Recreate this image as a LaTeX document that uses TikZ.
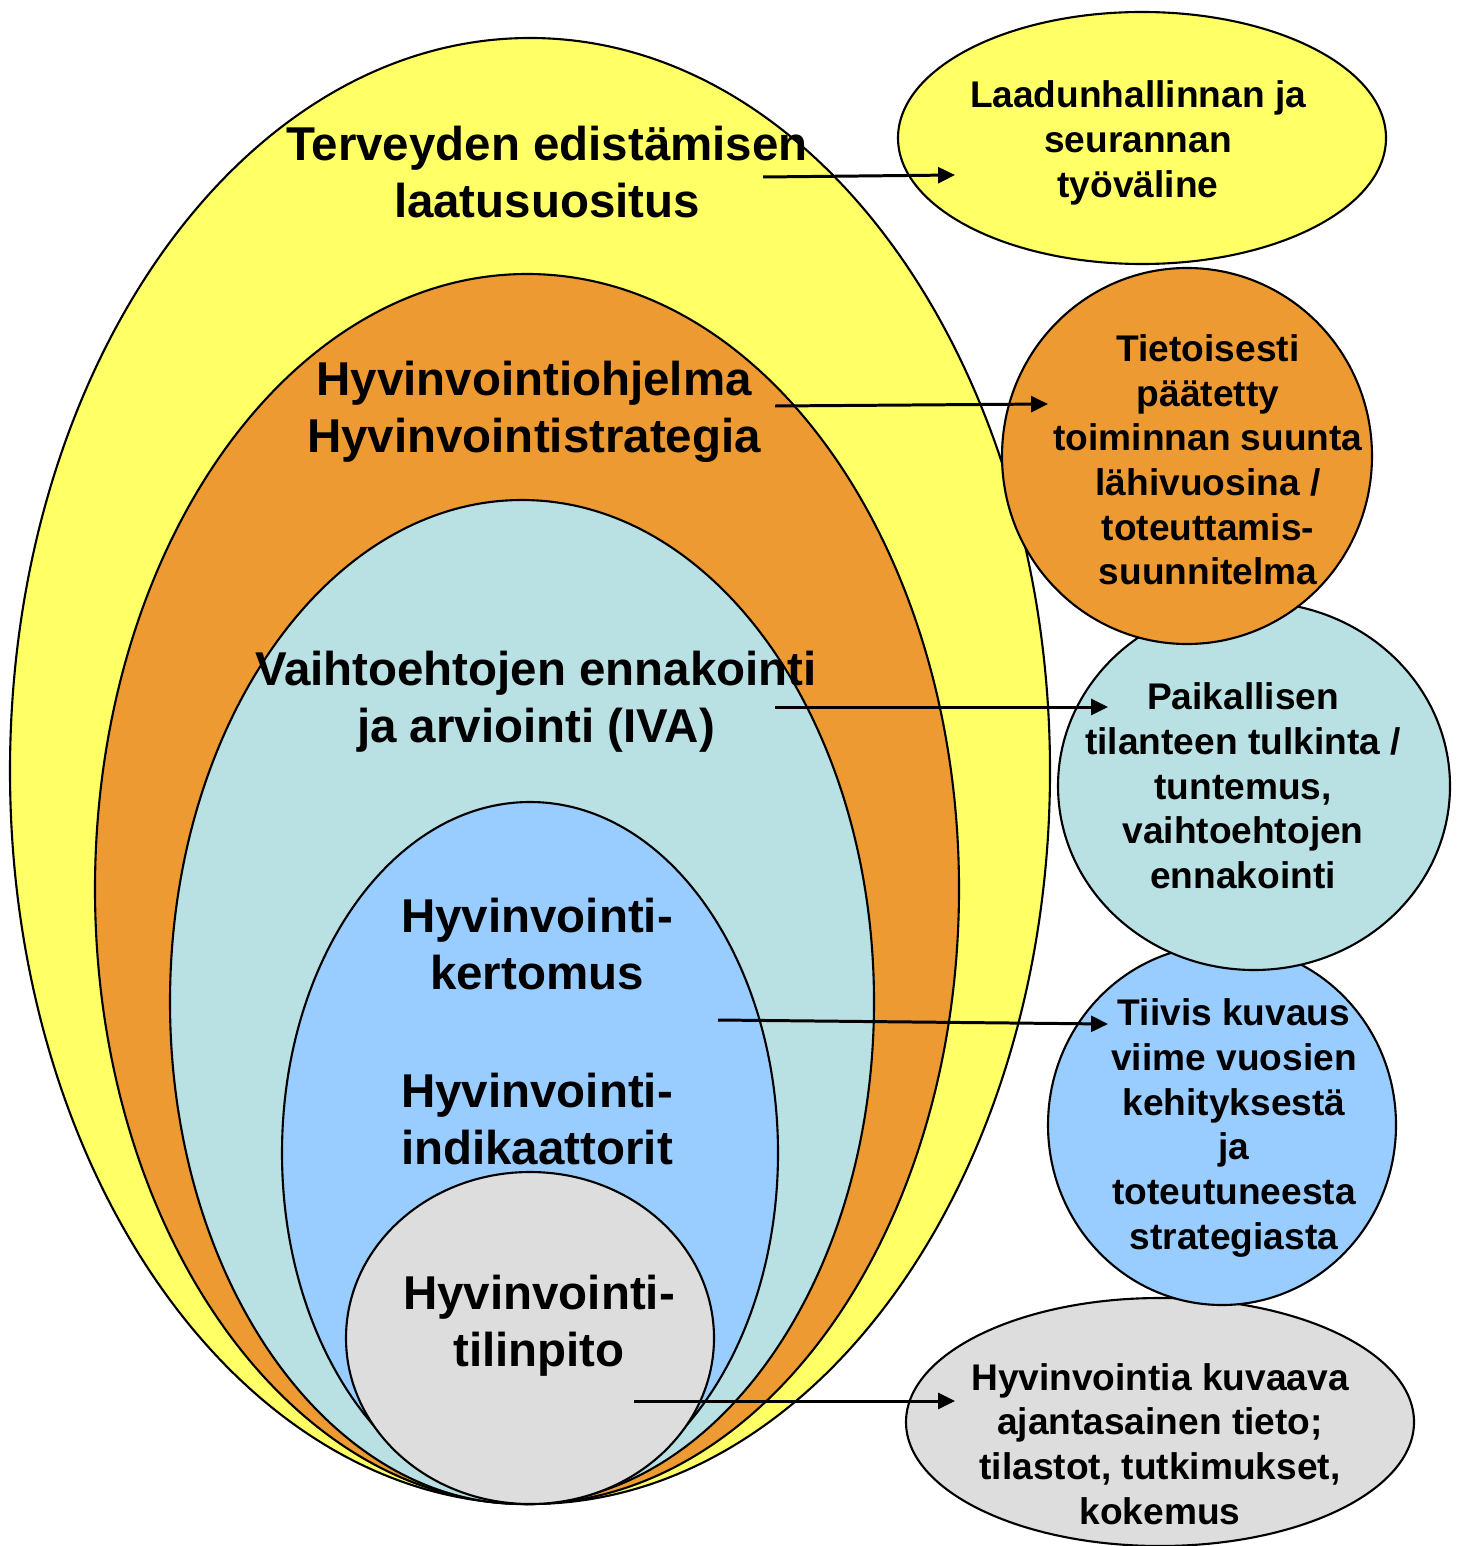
\documentclass[tikz,border=0pt]{standalone}
\usepackage{fontspec}
\setmainfont{Liberation Sans}
\usetikzlibrary{arrows.meta}
\definecolor{cyel}{HTML}{FFFF66}
\definecolor{corg}{HTML}{EE9A33}
\definecolor{cteal}{HTML}{B9E0E3}
\definecolor{cblue}{HTML}{99CCFF}
\definecolor{cgray}{HTML}{DDDDDD}
\tikzset{
  ring/.style={draw=black, line width=0.6pt},
  biglabel/.style={align=center, font=\bfseries\fontsize{13.5}{16.2}\selectfont, inner sep=0pt},
  smalllabel/.style={align=center, font=\bfseries\fontsize{10.55}{12.7}\selectfont, inner sep=0pt},
  link/.style={line width=0.85pt, -{Triangle[length=4.8pt,width=4.5pt]}}
}
\begin{document}
\begin{tikzpicture}[x=0.01cm,y=-0.01cm]
\useasboundingbox (0,0) rectangle (1461,1546);
% nested ellipses
\fill[white] (0,0) rectangle (1461,1546);
\draw[ring, fill=cyel] (530,771) ellipse [x radius=520, y radius=733];
\draw[ring, fill=corg] (527,889) ellipse [x radius=432, y radius=615];
\draw[ring, fill=cteal] (522,1002) ellipse [x radius=352, y radius=502];
\draw[ring, fill=cblue] (530,1153) ellipse [x radius=248, y radius=351];
\draw[ring, fill=cgray] (530,1338) ellipse [x radius=184, y radius=166];
% right ellipses
\draw[ring, fill=cgray] (1160,1422) ellipse [x radius=254, y radius=124];
\draw[ring, fill=cblue] (1222,1125) ellipse [x radius=174, y radius=180];
\draw[ring, fill=cteal] (1254,786) ellipse [x radius=196, y radius=184];
\draw[ring, fill=corg] (1187,456) ellipse [x radius=185, y radius=188];
\draw[ring, fill=cyel] (1142,138) ellipse [x radius=244, y radius=126];
% labels left
\node[biglabel] (l1) at (547,172) {Terveyden edistämisen\\laatusuositus};
\node[biglabel] (l2) at (534,412) {Hyvinvointiohjelma\\Hyvinvointistrategia};
\node[biglabel] (l3) at (536,702) {Vaihtoehtojen ennakointi\\ja arviointi (IVA)};
\node[biglabel] (l4) at (537,944) {Hyvinvointi-\\kertomus};
\node[biglabel] (l5) at (537,1119) {Hyvinvointi-\\indikaattorit};
\node[biglabel] (l6) at (539,1326) {Hyvinvointi-\\tilinpito};
% labels right
\node[smalllabel] (r1) at (1138,143) {Laadunhallinnan ja\\seurannan\\työväline};
\node[smalllabel] (r2) at (1208,460) {Tietoisesti\\päätetty\\toiminnan suunta\\lähivuosina /\\toteuttamis-\\suunnitelma};
\node[smalllabel] (r3) at (1243,786) {Paikallisen\\tilanteen tulkinta /\\tuntemus,\\vaihtoehtojen\\ennakointi};
\node[smalllabel] (r4) at (1234,1128) {Tiivis kuvaus\\viime vuosien\\kehityksestä\\ja\\toteutuneesta\\strategiasta};
\node[smalllabel] (r5) at (1160,1444) {Hyvinvointia kuvaava\\ajantasainen tieto;\\tilastot, tutkimukset,\\kokemus};
% arrows
\coordinate (a1s) at (763,177); \coordinate (a1e) at (955,175);
\coordinate (a2s) at (775,406); \coordinate (a2e) at (1048,404);
\coordinate (a3s) at (775,707); \coordinate (a3e) at (1108,707);
\coordinate (a4s) at (718,1020); \coordinate (a4e) at (1108,1024);
\coordinate (a5s) at (634,1401); \coordinate (a5e) at (955,1401);
\draw[link] (a1s) -- (a1e);
\draw[link] (a2s) -- (a2e);
\draw[link] (a3s) -- (a3e);
\draw[link] (a4s) -- (a4e);
\draw[link] (a5s) -- (a5e);
\end{tikzpicture}
\end{document}
